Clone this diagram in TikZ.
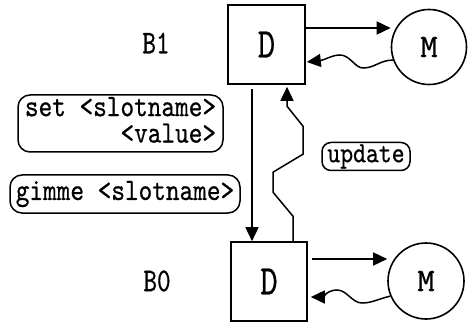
\documentclass[tikz,border=0pt]{standalone}
\usepackage{fontspec}
\usetikzlibrary{arrows.meta,calc}
% a slightly heavier Latin Modern Mono for all labels
\newfontfamily\mono{lmmono10-regular.otf}[FakeBold=0.6]
% monospaced labels, set taller than they are wide
\newcommand\tall[1]{\scalebox{1}[1.2]{#1}}
\newcommand\taller[1]{\scalebox{1}[1.28]{#1}}
\begin{document}
\begin{tikzpicture}[x=1pt,y=-1pt,
  txt/.style={font=\fontsize{26}{20.5}\selectfont\mono, inner sep=0pt},
  big/.style={font=\fontsize{33}{26}\selectfont\mono},
  dbox/.style={txt, big, draw, line width=1.6pt, rectangle, minimum width=77pt, minimum height=79pt},
  mcirc/.style={txt, big, draw, line width=1.6pt, circle, minimum size=75pt},
  msg/.style={txt, draw, line width=1.5pt, rounded corners=12pt},
  arr/.style={line width=1.5pt, -{Triangle[length=14pt,width=13pt]}}
]
\useasboundingbox (0,0) rectangle (468,323);

% level B1
\node[txt] (b1) at (156,43) {\taller{B1}};
\node[dbox] (d1) at (266.5,44.5) {\taller{D}};
\node[mcirc] (m1) at (429,47) {M};

% level B0
\node[txt] (b0) at (157,281) {\taller{B0}};
\node[dbox, minimum width=76pt] (d0) at (269,281.5) {\taller{D}};
\node[mcirc, minimum size=76pt] (m0) at (426,281) {M};

% messages
\node[msg, minimum width=205pt, minimum height=57pt] (set) at (120.5,123.5)
  {\tall{\begin{tabular}{@{}r@{}}set <slotname>\\<value>\end{tabular}}};
\node[msg, minimum width=230pt, minimum height=38pt] (gimme) at (125,194)
  {\tall{gimme <slotname>}};
\node[msg, rounded corners=9pt, minimum width=88pt, minimum height=28pt,
      font=\fontsize{24.5}{20}\selectfont\mono] (upd) at (366,156.5)
  {\tall{update}};

% D -> M and the wavy reply, upper level
\draw[arr] ($(d1.east)+(0,-16.5)$) -- ($(m1.west)+(0,-19)$);
\draw[arr] (m1.200) .. controls (380,60) and (375,68) .. (363,68)
  .. controls (355,68) and (350,55) .. (340,55)
  .. controls (332,55) and (325,60) .. ($(d1.east)+(1,17.5)$);

% D -> M and the wavy reply, lower level
\draw[arr, shorten <=4pt] ($(d0.east)+(0,-22.5)$) -- ($(m0.west)+(0,-22)$);
\draw[arr] (m0.203) .. controls (378,299) and (372,303) .. (362,303)
  .. controls (352,303) and (347,290) .. (337,290)
  .. controls (328,290) and (322,297) .. ($(d0.east)+(3,15.5)$);

% requests going down
\draw[arr] ($(d1.south)+(-14.5,4)$) -- ($(d0.north)+(-17,0)$);

% update going up
\draw[arr] ($(d0.north)+(24,0)$) -- ++(0,-25) -- ++(-20,-24) -- ++(0,-20)
  -- ++(30,-18) -- ++(0,-28) -- ++(-16,-20) -- ($(d1.south)+(20.5,2)$);
\end{tikzpicture}
\end{document}
